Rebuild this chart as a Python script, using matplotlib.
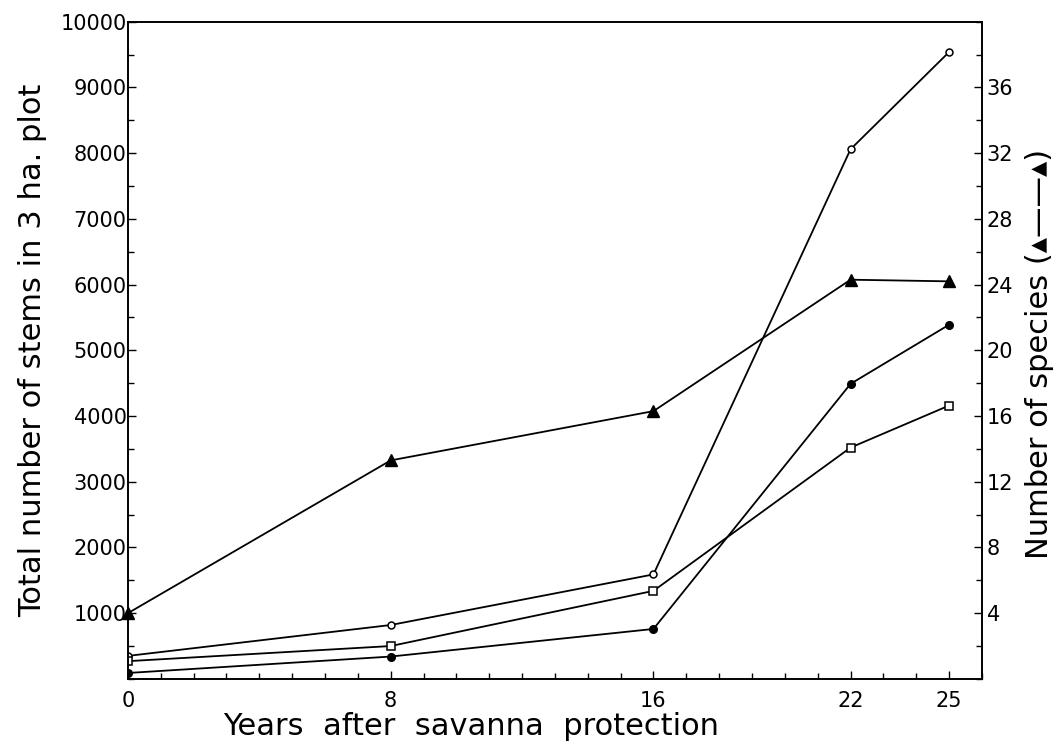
import matplotlib.pyplot as plt
from matplotlib.ticker import MultipleLocator

# years after protection
years = [0, 8, 16, 22, 25]

# stems in the 3 ha plot (left axis)
open_circle = [350, 820, 1590, 8060, 9540]
open_square = [270, 500, 1340, 3520, 4160]
filled_circle = [90, 340, 760, 4490, 5390]

# number of species (right axis)
species = [4, 13.3, 16.3, 24.3, 24.2]

left_ticks = [1000, 2000, 3000, 4000, 5000, 6000, 7000, 8000, 9000, 10000]
right_ticks = [4, 8, 12, 16, 20, 24, 28, 32, 36]

plt.rcParams['font.family'] = ['DejaVu Sans']

fig = plt.figure(figsize=(10.57, 7.51), dpi=100)
ax = fig.add_axes([0.121, 0.096, 0.808, 0.875])

ax.plot(years, open_circle, '-o', color='black', lw=1.3, ms=5, mfc='white', mew=1.1)
ax.plot(years, open_square, '-s', color='black', lw=1.3, ms=5.5, mfc='white', mew=1.1)
ax.plot(years, filled_circle, '-o', color='black', lw=1.3, ms=5.5, mfc='black')

ax.set_xlim(0, 26)
ax.set_ylim(0, 10000)
ax.set_xticks(years)
ax.xaxis.set_minor_locator(MultipleLocator(1))
ax.set_yticks(left_ticks)
ax.yaxis.set_minor_locator(MultipleLocator(500))
ax.tick_params(which='both', direction='in', labelsize=15, right=False, top=False)
ax.tick_params(which='major', length=6, width=1)
ax.tick_params(which='minor', length=4, width=1)
ax.tick_params(axis='x', pad=9)
ax.tick_params(axis='y', pad=1)
ax.set_xlabel('Years  after  savanna  protection', fontsize=22)
ax.xaxis.set_label_coords(0.402, -0.05)
ax.set_ylabel('Total number of stems in 3 ha. plot', fontsize=22)
ax.yaxis.set_label_coords(-0.095, 0.5)

ax2 = ax.twinx()
ax2.plot(years, species, '-^', color='black', lw=1.3, ms=9, mfc='black', clip_on=False)
ax2.set_ylim(0, 40)
ax2.set_yticks(right_ticks)
ax2.yaxis.set_minor_locator(MultipleLocator(2))
ax2.tick_params(which='both', direction='in', labelsize=15)
ax2.tick_params(which='major', length=6, width=1)
ax2.tick_params(which='minor', length=4, width=1)
ax2.set_ylabel('Number of species (▴——▴)', fontsize=22)
ax2.yaxis.set_label_coords(1.05, 0.495)

for a in (ax, ax2):
    for s in a.spines.values():
        s.set_linewidth(1.2)

fig.savefig('out.png', dpi=100)
